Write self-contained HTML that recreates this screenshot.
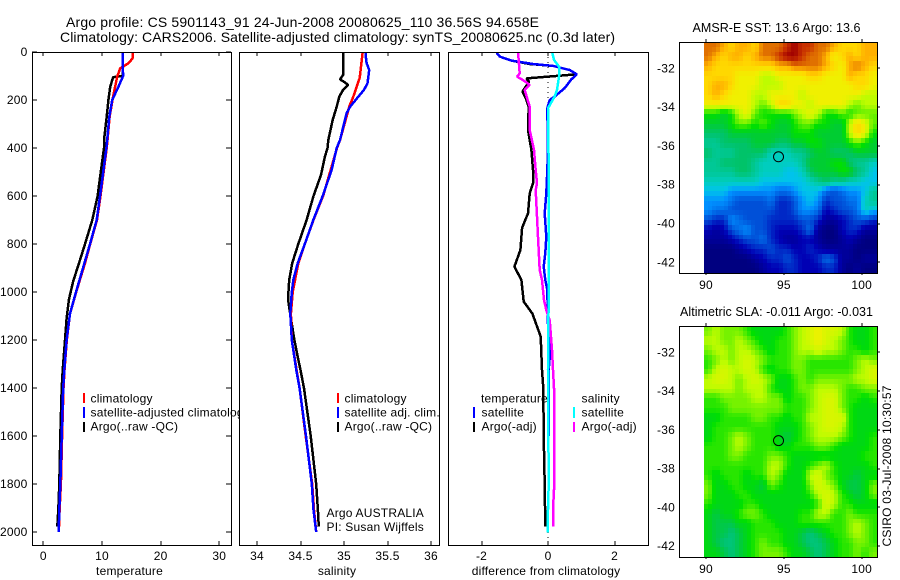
<!DOCTYPE html>
<html lang="en">
<head>
<meta charset="utf-8">
<title>Argo profile</title>
<style>
html,body{margin:0;padding:0;background:#fff;width:900px;height:580px;overflow:hidden}
svg{display:block}
text{font-family:"Liberation Sans",sans-serif;font-size:12px;fill:#000;letter-spacing:.2px}
.title{font-size:14px;letter-spacing:0}
.mtitle{font-size:12.5px;letter-spacing:0}
.stamp{letter-spacing:0}
</style>
</head>
<body>
<svg id="chart" xmlns="http://www.w3.org/2000/svg" width="900" height="580" viewBox="0 0 900 580">
  <rect x="0" y="0" width="900" height="580" fill="#fff"/>
  <text class="title" x="66" y="27" textLength="473" lengthAdjust="spacing">Argo profile: CS 5901143_91 24-Jun-2008 20080625_110 36.56S 94.658E</text>
  <text class="title" x="60" y="42" textLength="555" lengthAdjust="spacing">Climatology: CARS2006. Satellite-adjusted climatology: synTS_20080625.nc (0.3d later)</text>

  <g id="panel1">
    <rect x="32" y="52" width="199" height="493" fill="#fff"/>
    <g id="p1marks"></g>
    <g>
      <rect x="83" y="393" width="2" height="10" fill="#f00"/>
      <rect x="83" y="407" width="2" height="11" fill="#00f"/>
      <rect x="83" y="422" width="2" height="10" fill="#000"/>
      <text x="90.5" y="402.5">climatology</text>
      <text x="90.5" y="416.5">satellite-adjusted climatology</text>
      <text x="90.5" y="430.5">Argo(..raw -QC)</text>
    </g>
  </g>

  <g id="panel2">
    <rect x="239.5" y="52" width="200" height="493" fill="#fff"/>
    <g id="p2marks"></g>
    <g>
      <rect x="337" y="393" width="2" height="10" fill="#f00"/>
      <rect x="337" y="407" width="2" height="11" fill="#00f"/>
      <rect x="337" y="422" width="2" height="10" fill="#000"/>
      <text x="344.5" y="402.5">climatology</text>
      <text x="344.5" y="416.5">satellite adj. clim.</text>
      <text x="344.5" y="430.5">Argo(..raw -QC)</text>
      <text x="326.5" y="517">Argo AUSTRALIA</text>
      <text x="326.5" y="531">PI: Susan Wijffels</text>
    </g>
  </g>

  <g id="panel3">
    <rect x="448" y="52" width="200" height="493" fill="#fff"/>
    <g id="p3marks"></g>
    <g>
      <text x="481" y="402.5">temperature</text>
      <rect x="473" y="407" width="2" height="11" fill="#00f"/>
      <rect x="473" y="422" width="2" height="10" fill="#000"/>
      <text x="481.5" y="416.5">satellite</text>
      <text x="481.5" y="430.5">Argo(-adj)</text>
      <text x="581.5" y="402.5">salinity</text>
      <rect x="573" y="407" width="2" height="11" fill="#0ff"/>
      <rect x="573" y="422" width="2" height="10" fill="#f0f"/>
      <text x="581.5" y="416.5">satellite</text>
      <text x="581.5" y="430.5">Argo(-adj)</text>
    </g>
  </g>

  <g id="map1"></g>
  <g id="map2"></g>
  <text class="mtitle" x="692.5" y="32" textLength="168" lengthAdjust="spacing">AMSR-E SST: 13.6  Argo: 13.6</text>
  <text class="mtitle" x="680" y="316" textLength="193" lengthAdjust="spacing">Altimetric SLA: -0.011  Argo: -0.031</text>
  <text class="stamp" transform="translate(891,546.5) rotate(-90)" textLength="161" lengthAdjust="spacing">CSIRO 03-Jul-2008 10:30:57</text>
</svg>
<script>
// ---- shared axis data ----
const depthTicks = [0,200,400,600,800,1000,1200,1400,1600,1800,2000];
const tempTicks = [0,10,20,30];
const salTicks = [34,34.5,35,35.5,36];
const salTickLabels = ['34','34.5','35','35.5','36'];
const diffTicks = [-2,0,2];
const lonTicks = [90,95,100];
const latTicks = [-32,-34,-36,-38,-40,-42];
const floatLon = [94.658];
const floatLat = [-36.56];

// ---- temperature panel ----
const tempArgoDepth = [0,96,100,105,145,200,270,367,400,492,600,700,800,880,955,1030,1110,1200,1325,1401,1600,1800,1908,1978];
const tempArgoValue = [13.5,13.5,13.5,11.9,11.4,11.1,10.8,10.35,10.34,9.83,9.26,8.35,7.1,6.08,5.1,4.38,3.98,3.7,3.3,3.13,2.9,2.73,2.56,2.39];
const tempClimDepth = [0,27,47,68,103,186,270,367,400,600,700,800,880,1000,1090,1200,1325,1401,1600,1800,1908,2000];
const tempClimValue = [15.2,15.2,14.5,13.1,12.6,11.9,11.3,10.95,10.8,9.75,9.15,8.0,7.1,5.6,4.55,4.0,3.62,3.45,3.2,3.0,2.78,2.65];
const tempSatDepth = [0,100,145,200,270,367,400,600,700,800,880,1000,1090,1200,1325,1401,1600,1800,1908,2000];
const tempSatValue = [13.5,13.6,12.8,11.75,11.25,10.9,10.75,9.66,9.1,7.96,7.0,5.57,4.55,3.98,3.58,3.4,3.13,2.9,2.73,2.62];

// ---- salinity panel ----
const salArgoDepth = [0,96,114,124,137,158,186,228,283,367,400,436,512,600,700,800,880,950,1030,1110,1200,1270,1325,1401,1600,1800,1908,1978];
const salArgoValue = [34.99,34.99,34.954,35.0,35.046,34.99,34.946,34.916,34.87,34.82,34.81,34.78,34.736,34.65,34.57,34.475,34.405,34.37,34.356,34.39,34.43,34.468,34.5,34.54,34.617,34.68,34.70,34.71];
const salClimDepth = [0,61,108,145,186,228,255,367,400,600,700,800,880,1000,1090,1200,1325,1401,1600,1800,1908,2000];
const salClimValue = [35.215,35.195,35.18,35.146,35.107,35.06,35.04,34.954,34.92,34.76,34.65,34.55,34.475,34.41,34.39,34.4,34.455,34.49,34.56,34.635,34.655,34.68];
const salSatDepth = [0,19,46,75,130,158,186,228,255,367,400,492,600,700,800,880,950,1000,1090,1200,1325,1401,1600,1800,1908,2000];
const salSatValue = [35.25,35.25,35.26,35.29,35.27,35.23,35.165,35.07,35.03,34.954,34.916,34.858,34.755,34.647,34.55,34.468,34.417,34.40,34.383,34.40,34.452,34.49,34.563,34.63,34.65,34.68];

// ---- difference panel ----
const diffTempArgoDepth = [3,19,36,50,58,75,93,110,124,165,192,228,325,408,492,547,589,672,733,825,894,950,1040,1090,1186,1325,1401,1600,1800,1978];
const diffTempArgoValue = [-1.55,-1.45,-1.1,-0.55,0.15,0.65,0.87,-0.65,-0.57,-0.77,-0.67,-0.58,-0.6,-0.5,-0.45,-0.45,-0.55,-0.6,-0.78,-0.83,-1.01,-0.8,-0.73,-0.47,-0.22,-0.18,-0.14,-0.13,-0.1,-0.08];
const diffTempSatDepth = [3,19,36,50,58,75,93,114,151,186,200,234,408,492,589,672,770,838,894,950,992,1133,1242,1325,1600];
const diffTempSatValue = [-1.55,-1.45,-1.1,-0.45,0.15,0.65,0.87,0.7,0.5,0.2,0.05,-0.02,0,-0.02,-0.05,-0.1,-0.05,-0.08,-0.13,-0.08,-0.02,0.0,0.07,0.02,0.03];
const diffSalArgoDepth = [3,89,103,117,137,158,192,228,325,408,492,547,575,770,908,950,1033,1075,1117,1242,1325,1401,1600,1800,1908,1978];
const diffSalArgoValue = [-0.9,-0.85,-0.93,-0.75,-0.55,-0.7,-0.63,-0.55,-0.55,-0.42,-0.37,-0.33,-0.37,-0.3,-0.25,-0.18,-0.12,-0.05,0.05,0.12,0.15,0.18,0.18,0.19,0.15,0.15];
const diffSalSatDepth = [3,33,61,103,158,186,234,492,1000,1325,1800,1908,2003];
const diffSalSatValue = [0.13,0.18,0.33,0.33,0.27,0.2,0,0.02,0.02,0,0.02,0,-0.01];

// ---- map grids (a = low ... u = high on the colour scale) ----
const levelCodes = 'abcdefghijklmnopqrstu';
const sstRows = [
'ssrqrrqssstuttssrqqqrr',
'srqrrqrsstuutssrpqrqrr',
'rqqqqqqqqrrssssrqprsrq',
'qqqqpppooppppqqppprqqp',
'qrrqpppoooppppppppp'+'qqp',
'qrqpppooppppopppppppoo',
'ppppppono'+'qqppopppp'+'onoo',
'mmlmopnmmmmnopommnmnnn',
'lllmnnmnmllmnnmmlloqpn',
'kkkllllllllmmmlllloqpm',
'jjkkkklllkkllmmlllmnml',
'kjjjkkkkiiijjkllkkklll',
'jjkkkkjiiiiijlllmmkjji',
'jjjjkkjiiihhiklllmmkjh',
'iiiiiiihhhhhhijkjjiihh',
'hhhggggggffghhhfefgghj',
'gggfeeeefddeghgdeeffij',
'gffeeeeeeddeggfcdeefih',
'eddgfeeeddddeedbbcdeed',
'cbcefgeedcccdfbaacddbb',
'bbbcdeefdcbbccbaabcbaa',
'aaaabcddeddccdcbbbbaaa',
'aaaaaabcddedccdfebbabb',
'aaaaaaabccddcccddbabaa'
];
const slaRows = [
'nonnnmllllmnopqppomllm',
'oonnonmllmmnopqponmllm',
'noonoonmlmmnoopoonmmlm',
'mnonoponmmmnnmmmmmmnon',
'mopoopomlmmnnmmmmmmnop',
'opponopon'+'llmnm'+'nnnnn'+'oop',
'oooonooomllmnnooonmmnn',
'mmnnnnoonnlmmnoppnmmlm',
'mmmnnnnnnnmmmnoppnmlll',
'llmmmmnnmmlmmoopppmlll',
'lmmmmmmmmlllmnoppomlll',
'lmmnonmmmlklmnooonmllm',
'mmmnonmmmllmmmnnmllllm',
'mmmnnmmmnnm'+'lllllllll'+'mm',
'mmmmmmmmoomllmnomllllm',
'mlmmmlmmonlllopnmllkll',
'nllmmllknmlllnponlkkln',
'nlllmmlllllllmopomlkln',
'mllllmmlllllllmpommlll',
'lkllmnnmllllmmoommnmmm',
'lkkkllmmmlllmmmmmmnonm',
'lkkjklmmmmllkjklmmnonm',
'lkjjklmnmmllkjjklmmnnm',
'llkjklmnnnmllkjklmmnmn'
];

// ---- drawing helpers ----
const NS = 'http://www.w3.org/2000/svg';
function make(tag, parent, name, attrs) {
  const el = document.createElementNS(NS, tag);
  
  
  for (const k in attrs) el.setAttribute(k, attrs[k]);
  parent.appendChild(el);
  return el;
}
function linear(v0, p0, v1, p1) { return v => p0 + (v - v0) * (p1 - p0) / (v1 - v0); }
const depthY = linear(0, 52, 2000, 532);

function drawSeries(parent, name, depths, values, xScale, color, width) {
  const pts = depths.map((d, i) => xScale(values[i]).toFixed(1) + ',' + depthY(d).toFixed(1)).join(' ');
  make('polyline', parent, name, {points: pts, fill: 'none', stroke: color, 'stroke-width': width, 'shape-rendering': 'crispEdges', 'stroke-linejoin': 'bevel'});
}
function hLine(parent, name, x1, x2, y) {
  make('line', parent, name, {x1: x1, x2: x2, y1: y, y2: y, stroke: '#000', 'stroke-width': 1, 'shape-rendering': 'crispEdges'});
}
function vLine(parent, name, x, y1, y2) {
  make('line', parent, name, {x1: x, x2: x, y1: y1, y2: y2, stroke: '#000', 'stroke-width': 1, 'shape-rendering': 'crispEdges'});
}
function label(parent, name, x, y, str, anchor) {
  const t = make('text', parent, name, {x: x, y: y, 'text-anchor': anchor});
  t.textContent = str;
}
function frame(parent, name, l, t, r, b) {
  make('rect', parent, name, {x: l + 0.5, y: t + 0.5, width: r - l, height: b - t, fill: 'none', stroke: '#000', 'stroke-width': 1, 'shape-rendering': 'crispEdges'});
}
function drawPanel(g, key, l, r, xScale, ticks, tickLabels, xTitle, yLabels) {
  const top = 52, bottom = 545;
  ticks.forEach((v, i) => {
    const x = Math.round(xScale(v));
    vLine(g, key + '-x-tick-top', x, top, top + 4);
    vLine(g, key + '-x-tick-bottom', x, bottom - 4, bottom);
    label(g, key + '-x-tick-label', xScale(v), 560, tickLabels[i], 'middle');
  });
  if (yLabels) {
    depthTicks.forEach(d => {
      const y = Math.round(depthY(d));
      hLine(g, key + '-y-tick-left', l, l + 5, y);
      hLine(g, key + '-y-tick-right', r - 5, r, y);
      label(g, key + '-y-tick-label', 27.5, depthY(d) + 4, String(d), 'end');
    });
  }
  frame(g, key + '-frame', l, top, r, bottom);
  label(g, key + '-x-axis-title', (l + r) / 2 - 2, 575, xTitle, 'middle');
}

// ---- panels ----
const tempX = linear(0, 43.3, 30, 219.3);
const salX = linear(34, 257, 36, 431);
const diffX = linear(-2, 481.5, 2, 614.5);
const p1 = document.getElementById('p1marks');
const p2 = document.getElementById('p2marks');
const p3 = document.getElementById('p3marks');

drawSeries(p1, 'temperature-argo-line', tempArgoDepth, tempArgoValue, tempX, '#000', 2.5);
drawSeries(p1, 'temperature-climatology-line', tempClimDepth, tempClimValue, tempX, '#f00', 2.5);
drawSeries(p1, 'temperature-satellite-line', tempSatDepth, tempSatValue, tempX, '#00f', 2.5);
drawPanel(p1, 'temperature', 32, 231, tempX, tempTicks, tempTicks.map(String), 'temperature', true);

drawSeries(p2, 'salinity-argo-line', salArgoDepth, salArgoValue, salX, '#000', 2.5);
drawSeries(p2, 'salinity-climatology-line', salClimDepth, salClimValue, salX, '#f00', 2.5);
drawSeries(p2, 'salinity-satellite-line', salSatDepth, salSatValue, salX, '#00f', 2.5);
drawPanel(p2, 'salinity', 239, 439, salX, salTicks, salTickLabels, 'salinity', false);

make('line', p3, 'zero-difference-line', {x1: diffX(0), x2: diffX(0), y1: 52, y2: 545, stroke: '#000', 'stroke-width': 1, 'stroke-dasharray': '1 4', 'shape-rendering': 'crispEdges'});
drawSeries(p3, 'diff-temperature-argo-line', diffTempArgoDepth, diffTempArgoValue, diffX, '#000', 2.5);
drawSeries(p3, 'diff-temperature-satellite-line', diffTempSatDepth, diffTempSatValue, diffX, '#00f', 2.5);
drawSeries(p3, 'diff-salinity-argo-line', diffSalArgoDepth, diffSalArgoValue, diffX, '#f0f', 2.5);
drawSeries(p3, 'diff-salinity-satellite-line', diffSalSatDepth, diffSalSatValue, diffX, '#0ff', 2.5);
drawPanel(p3, 'diff', 448, 648, diffX, diffTicks, diffTicks.map(v => String(v)), 'difference from climatology', false);

// ---- maps ----
const rampStops = [0,.1,.2,.3,.35,.4,.45,.5,.55,.6,.65,.7,.75,.8,.85,.9,.95,1];
const rampColors = [[0,0,128],[0,0,180],[0,80,216],[0,144,255],[0,195,235],[0,205,190],[0,200,150],[0,195,105],[0,205,50],[0,224,0],[100,240,0],[190,252,0],[240,240,0],[255,216,0],[255,176,0],[224,112,0],[200,48,0],[160,0,0]];
function rampColor(t) {
  let i = 0;
  while (i < rampStops.length - 2 && t > rampStops[i + 1]) i++;
  const f = (t - rampStops[i]) / (rampStops[i + 1] - rampStops[i]);
  const c = rampColors[i].map((a, k) => Math.round(a + (rampColors[i + 1][k] - a) * f));
  return 'rgb(' + c.join(',') + ')';
}
// level at a fractional grid position, blending neighbouring read-off cells
function levelAt(rows, u, v) {
  const nR = rows.length, nC = rows[0].length;
  u = Math.max(0, Math.min(nC - 1, u));
  v = Math.max(0, Math.min(nR - 1, v));
  const c0 = Math.floor(u), r0 = Math.floor(v);
  const c1 = Math.min(nC - 1, c0 + 1), r1 = Math.min(nR - 1, r0 + 1);
  const fu = u - c0, fv = v - r0;
  const at = (r, c) => levelCodes.indexOf(rows[r][c]);
  return (at(r0, c0) * (1 - fu) + at(r0, c1) * fu) * (1 - fv) + (at(r1, c0) * (1 - fu) + at(r1, c1) * fu) * fv;
}
// SLA colour limits are narrower in the middle of the scale: lift the greens, hold back the yellows
function slaLevel(lev) {
  if (lev > 14) return 14 + (lev - 14) * 0.5;
  const lift = 0.6 * Math.min(1, Math.max(0, (14 - lev) / 3));
  return lev + lift;
}
function sstLevel(lev) { return lev; }
function drawMap(g, key, rows, top, bottom, lat32Y, lat42Y, levelFn) {
  const left = 679, right = 877, gridLeft = 704;
  const lonX = linear(90, 706, 100, 861.7);
  const latY = linear(-32, lat32Y, -42, lat42Y);
  const fineRows = rows.length * 2, fineCols = rows[0].length * 2;
  const cellH = (bottom - top) / fineRows;
  const cellW = (right - gridLeft) / fineCols;
  for (let r = 0; r < fineRows; r++) {
    for (let c = 0; c < fineCols; c++) {
      const x0 = Math.round(gridLeft + c * cellW), x1 = Math.round(gridLeft + (c + 1) * cellW);
      const y0 = Math.round(top + r * cellH), y1 = Math.round(top + (r + 1) * cellH);
      const lev = levelFn(levelAt(rows, (c + 0.5) / 2 - 0.5, (r + 0.5) / 2 - 0.5));
      make('rect', g, key + '-cell', {x: x0, y: y0, width: x1 - x0, height: y1 - y0, fill: rampColor(lev / 20), 'shape-rendering': 'crispEdges'});
    }
  }
  frame(g, key + '-frame', left, top, right, bottom);
  lonTicks.forEach(v => {
    const x = Math.round(lonX(v));
    vLine(g, key + '-lon-tick-top', x, top - 3, top);
    vLine(g, key + '-lon-tick-bottom', x, bottom, bottom + 2);
    label(g, key + '-lon-tick-label', lonX(v), bottom + 16, String(v), 'middle');
  });
  latTicks.forEach(v => {
    const y = Math.round(latY(v));
    hLine(g, key + '-lat-tick', right, right + 3, y);
    label(g, key + '-lat-tick-label', 675, latY(v) + 4, String(v), 'end');
  });
  make('circle', g, key + '-float-marker', {cx: lonX(floatLon[0]), cy: latY(floatLat[0]), r: 5, fill: 'none', stroke: '#000', 'stroke-width': 1});
}
drawMap(document.getElementById('map1'), 'sst', sstRows, 42, 273, 68.3, 262.3, sstLevel);
drawMap(document.getElementById('map2'), 'sla', slaRows, 326, 557, 352.3, 546, slaLevel);
</script>
</body>
</html>
